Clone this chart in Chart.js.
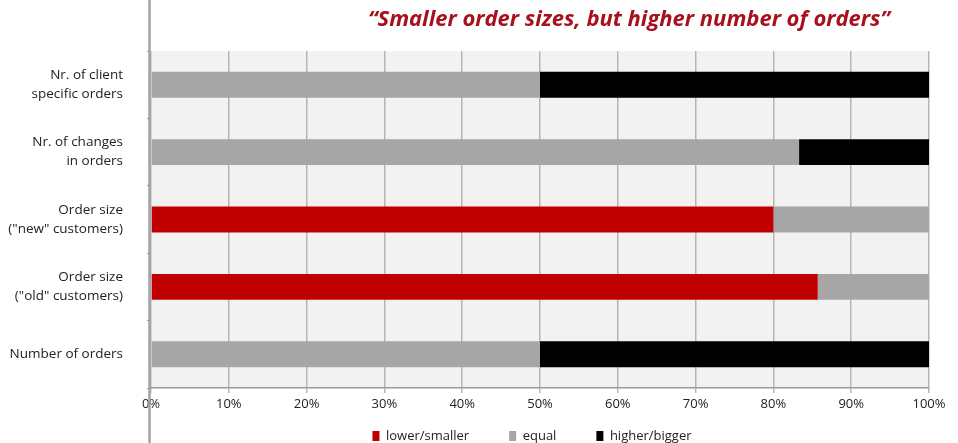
<!DOCTYPE html>
<html>
<head>
<meta charset="utf-8">
<script src="https://cdn.jsdelivr.net/npm/chart.js@4.4.0/dist/chart.umd.min.js"></script>
<style>
html,body{margin:0;padding:0;background:#fff;}
#wrap{position:relative;width:958px;height:443px;}
</style>
</head>
<body>
<div id="wrap"><canvas id="c"></canvas></div>
<script>
const categories = [
  ["Nr. of client", "specific orders"],
  ["Nr. of changes", "in orders"],
  ["Order size", "(\"new\" customers)"],
  ["Order size", "(\"old\" customers)"],
  ["Number of orders"]
];
const seriesNames = ["lower/smaller", "equal", "higher/bigger"];
const lowerSmaller = [0, 0, 80, 85.7, 0];
const equal = [50, 83.3, 20, 14.3, 50];
const higherBigger = [50, 16.7, 0, 0, 50];
const xTicks = [0, 10, 20, 30, 40, 50, 60, 70, 80, 90, 100];
const titleText = "\u201CSmaller order sizes, but higher number of orders\u201D";

const FONT = "'Open Sans', 'Noto Sans', sans-serif";
const LEGEND_PAD = 40;

const decor = {
  id: 'decor',
  beforeLayout(chart) {
    const l = chart.legend;
    if (l && !l._patched) {
      const f = l.fit;
      l.fit = function () { f.call(this); this.height = 27; };
      l._patched = true;
    }
  },
  afterLayout(chart) {
    const l = chart.legend;
    if (!l) return;
    const dx = 532 - (l.left + l.right) / 2;
    l.left += dx; l.right += dx;
    l.top = 436 - LEGEND_PAD - 6.5;
    l.bottom = chart.height;
  },
  beforeDraw(chart) {
    const {ctx, chartArea: a} = chart;
    ctx.save();
    ctx.fillStyle = '#f2f2f2';
    ctx.fillRect(a.left, a.top, a.right - a.left, a.bottom - a.top);
    ctx.restore();
  },
  afterDraw(chart) {
    const {ctx, chartArea: a} = chart;
    ctx.save();
    ctx.strokeStyle = '#a3a3a3';
    ctx.lineWidth = 2.5;
    ctx.beginPath();
    ctx.moveTo(a.left - 1.5, 0);
    ctx.lineTo(a.left - 1.5, chart.height);
    ctx.stroke();
    ctx.fillStyle = '#a8101e';
    ctx.font = "italic bold 22px " + FONT;
    ctx.textAlign = 'center';
    ctx.textBaseline = 'middle';
    ctx.fillText(titleText, 629, 20);
    ctx.restore();
  }
};

new Chart(document.getElementById('c'), {
  type: 'bar',
  data: {
    labels: categories,
    datasets: [
      {label: seriesNames[0], data: lowerSmaller, backgroundColor: '#c00000'},
      {label: seriesNames[1], data: equal, backgroundColor: '#a6a6a6'},
      {label: seriesNames[2], data: higherBigger, backgroundColor: '#000000'}
    ]
  },
  options: {
    indexAxis: 'y',
    responsive: true,
    maintainAspectRatio: false,
    animation: false,
    devicePixelRatio: 1,
    layout: {padding: {top: 51, right: 29, left: 0, bottom: 0}},
    datasets: {bar: {categoryPercentage: 1, barPercentage: 0.385, borderWidth: 0}},
    scales: {
      x: {
        stacked: true, min: 0, max: 100,
        afterBuildTicks(s) { s.ticks = xTicks.map(v => ({value: v})); },
        afterFit(s) { s.height = 28; },
        border: {display: true, color: '#999999', width: 1.5},
        grid: {color: '#b5b5b5', lineWidth: 1.5, tickLength: 5, drawTicks: true},
        ticks: {callback: v => v + '%', color: '#222', font: {family: FONT, size: 13}, padding: 3, maxRotation: 0, autoSkip: false}
      },
      y: {
        stacked: true,
        afterFit(s) { s.width = 151; },
        border: {display: false},
        grid: {offset: true, drawOnChartArea: false, color: '#a0a0a0', tickLength: 4, lineWidth: 1},
        ticks: {color: '#222', font: {family: FONT, size: 13.5, lineHeight: 1.4}, padding: 24}
      }
    },
    plugins: {
      title: {display: false},
      tooltip: {enabled: false},
      legend: {
        display: true, position: 'bottom',
        labels: {boxWidth: 7, boxHeight: 10, padding: LEGEND_PAD, color: '#222', font: {family: FONT, size: 13}}
      }
    }
  },
  plugins: [decor]
});
</script>
</body>
</html>
